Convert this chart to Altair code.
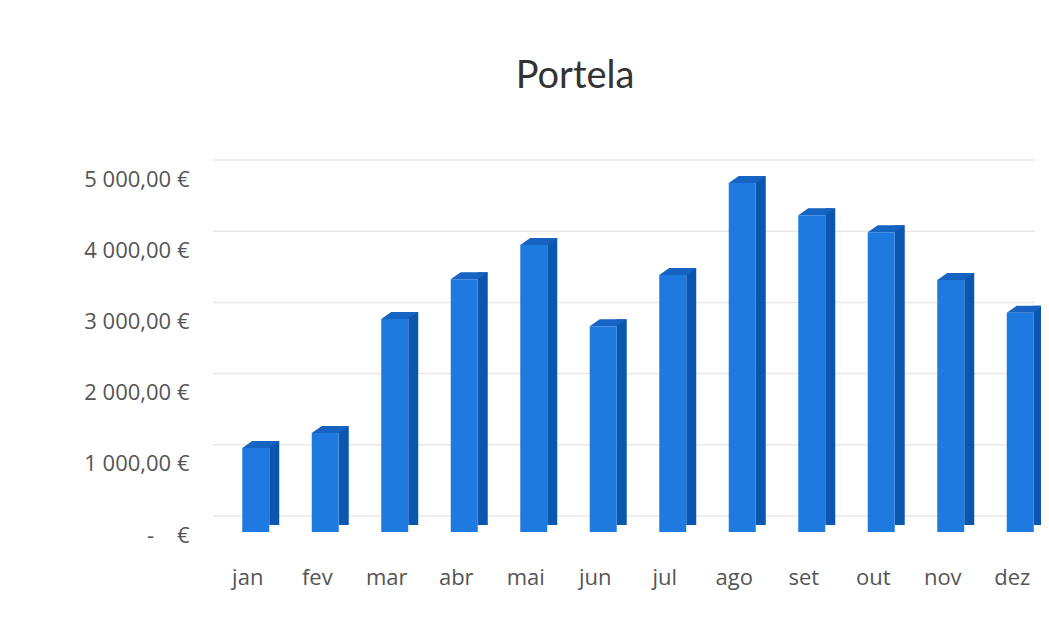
import altair as alt
import pandas as pd

months = ["jan", "fev", "mar", "abr", "mai", "jun", "jul", "ago", "set", "out", "nov", "dez"]
values = [1180, 1390, 2990, 3550, 4030, 2890, 3610, 4900, 4450, 4210, 3540, 3080]
y_ticks = [0, 1000, 2000, 3000, 4000, 5000]

df = pd.DataFrame({"mes": months, "valor": values})
grid_df = pd.DataFrame({"valor": y_ticks})

label_expr = (
    "datum.value == 0 ? '-\u00a0\u00a0\u00a0\u00a0€' : "
    "replace(replace(format(datum.value, ',.2f'), ',', ' '), '.', ',') + ' €'"
)

x_enc = alt.X("mes:N", sort=months, title=None,
              scale=alt.Scale(paddingInner=0, paddingOuter=0, range=[0, 834]),
              axis=alt.Axis(labelAngle=0, labelFontSize=22, labelColor="#555555",
                            labelFont="Open Sans", labelPadding=35, ticks=False,
                            domain=False, grid=False))
y_scale = alt.Scale(domain=[0, 5000])
y_enc = alt.Y("valor:Q", title=None, scale=y_scale,
              axis=alt.Axis(values=y_ticks, labelExpr=label_expr, labelFontSize=22,
                            labelColor="#555555", labelFont="Open Sans", labelPadding=24,
                            labelOffset=3, ticks=False, domain=False, grid=False))

grid = alt.Chart(grid_df).mark_rule(color="#e8e8e8", strokeWidth=1.5, yOffset=-16).encode(
    y=y_enc)

base = alt.Chart(df)
side = base.mark_bar(width=10, xOffset=26.5, yOffset=-7, color="#0b57b0").encode(
    x=x_enc, y=y_enc)
top = base.mark_point(
    shape="M -1 0 L 1 0 L 1.74 -0.52 L -0.26 -0.52 Z",
    size=729, filled=True, opacity=1, color="#1663c2", strokeWidth=0, xOffset=8
).encode(x=x_enc, y=y_enc)
front = base.mark_bar(width=27, xOffset=8, color="#1f7ae0").encode(x=x_enc, y=y_enc)

chart = alt.layer(grid, side, top, front).properties(
    width=822, height=356, background="white",
    autosize=alt.AutoSizeParams(type="none"),
    title=alt.Title("Portela", fontSize=38, font="Lato", fontWeight="normal",
                    color="#333333", offset=63, anchor="middle", dx=-49),
    padding={"left": 205, "top": 168, "right": 6, "bottom": 70},
).configure_view(stroke=None)

chart.save("out.html", embed_options={"renderer": "svg", "actions": False})
